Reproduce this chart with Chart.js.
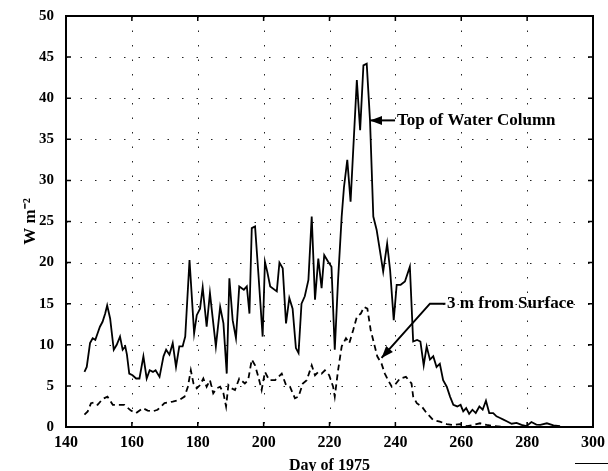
<!DOCTYPE html>
<html>
<head>
<meta charset="utf-8">
<script src="https://cdn.jsdelivr.net/npm/chart.js@4.4.1/dist/chart.umd.min.js"></script>
<style>
  html, body { margin: 0; padding: 0; background: #fff; }
  #wrap { position: relative; width: 608px; height: 471px; }
</style>
</head>
<body>
<div id="wrap"><canvas id="chart"></canvas></div>
<script>
// Top of water column (solid line): day of 1975 / W m-2
const topDays = [145.6, 146.3, 147.3, 148.1, 148.9, 149.6, 150.3, 151.1, 151.9, 152.5, 153.4, 154.5, 155.4, 156.4,
  157.2, 158, 158.5, 159.2, 160.2, 161.3, 162.3, 163.5, 164.5, 165.4, 166.4, 167.2, 168.4, 169.6, 170.4, 171.4,
  172.4, 173.4, 174.4, 175.4, 176.2, 177.5, 178.9, 179.7, 180.7, 181.5, 182.7, 183.7, 184.5, 185.5, 186.8, 187.8,
  188.8, 189.6, 190.6, 191.6, 192.6, 194, 194.9, 195.7, 196.4, 197.4, 198.4, 199.7, 200.4, 201.1, 202, 204, 204.8,
  205.8, 206.8, 207.8, 208.8, 209.8, 210.6, 211.5, 212.5, 213.6, 214.6, 215.6, 216.6, 217.6, 218.4, 219.6, 220.6,
  221.6, 222.6, 223.7, 224.4, 225.4, 226.4, 227.2, 228.3, 229.3, 230.3, 231.3, 232.3, 233.3, 234.3, 235.3, 236.3,
  237.5, 238.4, 239.5, 240.4, 241.6, 242.9, 244.4, 245.4, 246.6, 247.6, 248.6, 249.5, 250.5, 251.5, 252.5, 253.5,
  254.5, 255.6, 256.6, 257.6, 258.8, 259.8, 260.6, 261.5, 262.4, 263.4, 264.4, 265.5, 266.5, 267.5, 268.5, 269.7,
  270.7, 271.8, 272.8, 273.8, 275.3, 276.8, 278.3, 279.8, 281.3, 282.8, 284, 286, 288, 290];
const topValues = [6.7, 7.3, 10.2, 10.8, 10.6, 11.4, 12.2, 12.8, 13.8, 14.8, 13.2, 9.4, 10, 11,
  9.4, 9.8, 8.8, 6.5, 6.3, 5.9, 5.9, 8.6, 5.9, 6.9, 6.7, 6.9, 6.1, 8.6, 9.4, 8.8,
  10.2, 7.3, 9.8, 9.8, 11, 20.3, 11.4, 13.6, 14.4, 17, 12.2, 16.3, 13.4, 9.8, 14.6, 12.6,
  6.5, 18.1, 13, 10.8, 17.1, 16.7, 17.1, 13.8, 24.2, 24.4, 18.7, 11, 20.1, 18.9, 17.1, 16.5, 20,
  19.3, 12.6, 15.7, 14.4, 9.6, 9, 15, 15.9, 17.9, 25.6, 15.5, 20.5, 16.9, 20.9, 20.1, 19.5,
  9.4, 17.9, 25.6, 29.2, 32.5, 27.4, 33.7, 42.2, 36.1, 44, 44.2, 37.3, 25.6, 24, 21.5, 18.9,
  22.3, 19.1, 13, 17.3, 17.3, 17.7, 19.5, 10.4, 10.6, 10.4, 7.5, 9.8, 8.2, 8.6, 7.3, 7.7,
  5.7, 4.9, 3.7, 2.7, 2.5, 2.7, 1.9, 2.3, 1.6, 2.1, 1.7, 2.5, 2.1, 3.2, 1.7, 1.7,
  1.3, 1.1, 0.9, 0.7, 0.4, 0.5, 0.25, 0.1, 0.6, 0.3, 0.25, 0.45, 0.2, 0.1];

// 3 m from surface (dashed line)
const surfDays = [145.6, 146.6, 147.6, 148.6, 149.6, 151.1, 152.6, 154.2, 155.7, 157.7, 159.7, 161.3, 163.3, 164.8,
  166.3, 167.8, 169.9, 172.4, 174.4, 176, 177, 177.9, 178.7, 179.7, 180.7, 181.7, 182.7, 183.7, 184.7, 185.7,
  186.8, 187.8, 188.6, 189.3, 190.3, 191.3, 192.6, 194.3, 195.3, 196.4, 197.4, 198.4, 199.4, 200.4, 201.7, 203.5,
  205.5, 206.8, 208, 209.5, 210.6, 211.9, 213.1, 214.6, 215.6, 216.6, 217.6, 218.6, 219.9, 221.1, 221.6, 222.6,
  223.7, 225, 226, 227.2, 228.3, 229.5, 230.5, 231.5, 232.5, 233.5, 234.5, 235.8, 236.8, 237.8, 238.9, 240,
  241.4, 243.2, 244.9, 245.4, 246.5, 248, 249.5, 251.5, 253.5, 255.6, 257.6, 259.6, 261.7, 263.6, 265.7, 267.7,
  270, 272];
const surfValues = [1.5, 1.9, 2.9, 3, 2.7, 3.4, 3.7, 2.7, 2.7, 2.7, 2, 1.7, 2.3, 2,
  1.9, 2.1, 2.9, 3.1, 3.3, 3.7, 4.9, 6.9, 5.3, 4.7, 5.1, 5.9, 4.9, 5.7, 4.1, 4.7,
  4.9, 4.1, 2.5, 5.1, 4.7, 4.5, 5.9, 5.3, 5.7, 8.2, 7.5, 6.1, 4.5, 6.7, 5.7, 5.7,
  6.5, 5.1, 4.9, 3.5, 3.7, 5.3, 5.7, 7.5, 6.3, 6.7, 6.5, 6.9, 6.3, 4.9, 3.7, 6.9,
  9.8, 10.8, 10.2, 11.8, 13.4, 13.8, 14.6, 14.4, 11.8, 10.2, 8.6, 7.7, 6.5, 5.7, 4.9, 5.2,
  5.9, 6.1, 5.3, 3.7, 2.9, 2.5, 1.7, 0.85, 0.65, 0.35, 0.25, 0.35, 0.1, 0.25, 0.45, 0.25,
  0.1, 0.05];

const xTicks = [140, 160, 180, 200, 220, 240, 260, 280, 300];
const yTicks = [0, 5, 10, 15, 20, 25, 30, 35, 40, 45, 50];

// labels with arrows: text anchor and arrow path in data units
const noteLabels = ['Top of Water Column', '3 m from Surface'];
const noteText = [[240.5, 37.3], [255.7, 15]];
const notePaths = [
  [[239.9, 37.3], [232.3, 37.3]],
  [[255.2, 15], [250.5, 15], [235.8, 8.4]]
];

const SERIF = '"Liberation Serif", "Times New Roman", serif';

function toPoints(xs, ys) {
  return xs.map((x, i) => ({ x: x, y: ys[i] }));
}

const framePlugin = {
  id: 'frame',
  beforeDatasetsDraw(chart) {
    const { ctx, chartArea: a, scales: { x, y } } = chart;
    ctx.save();
    ctx.strokeStyle = '#222';
    ctx.lineWidth = 1;
    ctx.setLineDash([1.5, 13]);
    xTicks.forEach(t => {
      const px = Math.round(x.getPixelForValue(t)) + 0.5;
      ctx.beginPath(); ctx.moveTo(px, a.top); ctx.lineTo(px, a.bottom); ctx.stroke();
    });
    yTicks.forEach(t => {
      const py = Math.round(y.getPixelForValue(t)) + 0.5;
      ctx.beginPath(); ctx.moveTo(a.left, py); ctx.lineTo(a.right, py); ctx.stroke();
    });
    ctx.restore();
  },
  afterDatasetsDraw(chart) {
    const { ctx, chartArea: a, scales: { x, y } } = chart;
    ctx.save();
    ctx.strokeStyle = '#000';
    ctx.fillStyle = '#000';

    // inward ticks
    ctx.lineWidth = 1.5;
    xTicks.forEach(t => {
      const px = x.getPixelForValue(t);
      ctx.beginPath();
      ctx.moveTo(px, a.bottom); ctx.lineTo(px, a.bottom - 5);
      ctx.moveTo(px, a.top); ctx.lineTo(px, a.top + 5);
      ctx.stroke();
    });
    yTicks.forEach(t => {
      const py = y.getPixelForValue(t);
      ctx.beginPath();
      ctx.moveTo(a.left, py); ctx.lineTo(a.left + 5, py);
      ctx.moveTo(a.right, py); ctx.lineTo(a.right - 5, py);
      ctx.stroke();
    });

    // frame
    ctx.lineWidth = 2;
    ctx.strokeRect(a.left, a.top, a.right - a.left, a.bottom - a.top);

    // annotations
    ctx.font = 'bold 17px ' + SERIF;
    ctx.textAlign = 'left';
    ctx.textBaseline = 'middle';
    noteLabels.forEach((label, i) => {
      ctx.fillText(label, x.getPixelForValue(noteText[i][0]), y.getPixelForValue(noteText[i][1]));
      const pts = notePaths[i].map(p => [x.getPixelForValue(p[0]), y.getPixelForValue(p[1])]);
      ctx.lineWidth = 2;
      ctx.beginPath();
      ctx.moveTo(pts[0][0], pts[0][1]);
      for (let k = 1; k < pts.length; k++) ctx.lineTo(pts[k][0], pts[k][1]);
      ctx.stroke();
      // arrowhead at the last point
      const tip = pts[pts.length - 1];
      const prev = pts[pts.length - 2];
      const ang = Math.atan2(tip[1] - prev[1], tip[0] - prev[0]);
      const len = 12, half = 4.5;
      ctx.beginPath();
      ctx.moveTo(tip[0], tip[1]);
      ctx.lineTo(tip[0] - len * Math.cos(ang) + half * Math.sin(ang), tip[1] - len * Math.sin(ang) - half * Math.cos(ang));
      ctx.lineTo(tip[0] - len * Math.cos(ang) - half * Math.sin(ang), tip[1] - len * Math.sin(ang) + half * Math.cos(ang));
      ctx.closePath();
      ctx.fill();
    });

    // short rule under the plot, bottom right
    ctx.lineWidth = 1;
    ctx.beginPath(); ctx.moveTo(575, 463.5); ctx.lineTo(608, 463.5); ctx.stroke();
    ctx.restore();
  }
};

new Chart(document.getElementById('chart'), {
  type: 'line',
  data: {
    datasets: [
      {
        label: 'Top of Water Column',
        data: toPoints(topDays, topValues),
        borderColor: '#000',
        borderWidth: 1.8,
        pointRadius: 0,
        tension: 0,
        fill: false
      },
      {
        label: '3 m from Surface',
        data: toPoints(surfDays, surfValues),
        borderColor: '#000',
        borderWidth: 1.8,
        borderDash: [6, 4],
        pointRadius: 0,
        tension: 0,
        fill: false
      }
    ]
  },
  options: {
    responsive: true,
    maintainAspectRatio: false,
    animation: false,
    layout: { padding: { top: 16, right: 15, left: 0, bottom: 0 } },
    plugins: {
      legend: { display: false },
      tooltip: { enabled: false }
    },
    scales: {
      x: {
        type: 'linear',
        min: 140,
        max: 300,
        afterFit: s => {
          s.height = 44;
          s.paddingLeft = 0;
          s.paddingRight = 0;
        },
        afterBuildTicks: s => { s.ticks = xTicks.map(v => ({ value: v })); },
        ticks: {
          color: '#000',
          padding: 6,
          maxRotation: 0,
          font: { family: SERIF, size: 16, weight: 'bold' }
        },
        grid: { display: false, drawTicks: false },
        border: { display: false },
        title: {
          display: true,
          text: 'Day of 1975',
          color: '#000',
          padding: { top: 0, bottom: -4 },
          font: { family: SERIF, size: 16, weight: 'bold' }
        }
      },
      y: {
        min: 0,
        max: 50,
        afterFit: s => {
          s.width = 66;
          s.paddingTop = 0;
          s.paddingBottom = 0;
        },
        afterBuildTicks: s => { s.ticks = yTicks.map(v => ({ value: v })); },
        ticks: {
          color: '#000',
          padding: 12,
          font: { family: SERIF, size: 15, weight: 'bold' }
        },
        grid: { display: false, drawTicks: false },
        border: { display: false },
        title: {
          display: true,
          text: 'W m\u207B\u00B2',
          color: '#000',
          padding: { top: 20, bottom: 0 },
          font: { family: SERIF, size: 17, weight: 'bold' }
        }
      }
    }
  },
  plugins: [framePlugin]
});
</script>
</body>
</html>
